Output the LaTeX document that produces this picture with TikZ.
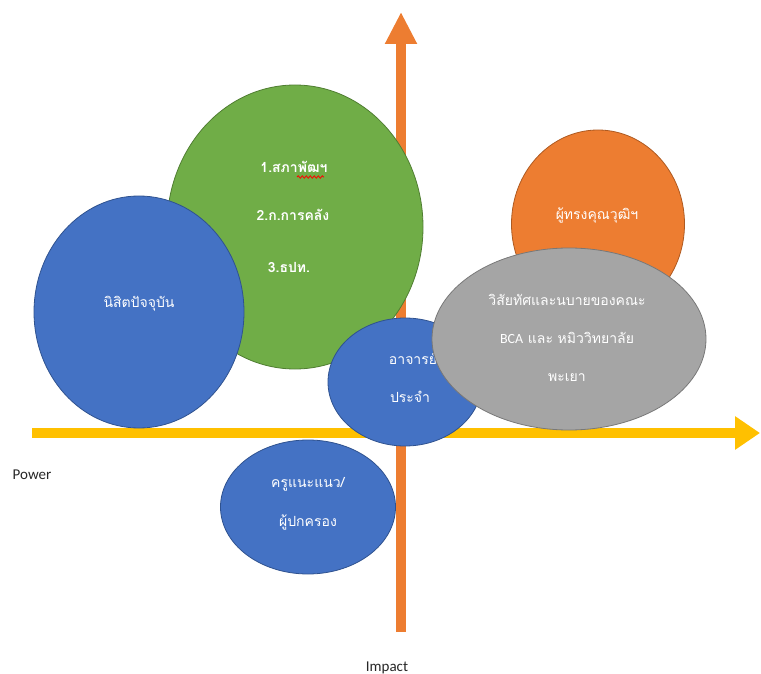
\documentclass[tikz,border=0pt]{standalone}
\usepackage{fontspec}
\setmainfont{Carlito}
\newfontfamily\thai[Script=Thai]{Loma}
\usetikzlibrary{arrows.meta,shapes.geometric,decorations.pathmorphing}
\definecolor{cgreen}{HTML}{70AD47}
\definecolor{cgreenD}{HTML}{507E32}
\definecolor{cblue}{HTML}{4472C4}
\definecolor{cblueD}{HTML}{2F528F}
\definecolor{corange}{HTML}{ED7D31}
\definecolor{corangeD}{HTML}{AE5A21}
\definecolor{cgray}{HTML}{A5A5A5}
\definecolor{cgrayD}{HTML}{787878}
\definecolor{cyellow}{HTML}{FFC000}
\tikzset{
  bubble/.style={ellipse, inner sep=0pt, line width=0.8pt},
  ttext/.style={text=white, font=\thai\fontsize{14}{16}\selectfont, inner sep=0pt, anchor=base},
  ltext/.style={text=black!85, font=\fontsize{15}{17}\selectfont, inner sep=0pt, anchor=base},
}
\begin{document}
\begin{tikzpicture}[x=1pt,y=-1pt]
\useasboundingbox (0,0) rectangle (761,674);
% axes
\coordinate (vbot) at (401,632);
\coordinate (vtop) at (401,12);
\coordinate (hl) at (32,433);
\coordinate (hr) at (760,433);
\draw[corange, line width=10pt, -{Triangle[width=30pt,length=32pt]}] (vbot) -- (vtop);
\draw[cyellow, line width=10pt, -{Triangle[width=32pt,length=25pt]}] (hl) -- (hr);
% green
\node[bubble, fill=cgreen, draw=cgreenD, minimum width=256pt, minimum height=284pt] (green) at (295,227) {};
\node[ttext, font=\thai\bfseries\fontsize{14}{16}\selectfont] (g1) at (294,173) {1.สภาพัฒฯ};
\draw[red, line width=0.8pt, decorate, decoration={snake, amplitude=1.2pt, segment length=4pt}] (297,177) -- (324,177);
\node[ttext, font=\thai\bfseries\fontsize{14}{16}\selectfont] (g2) at (293,221) {2.ก.การคลัง};
\node[ttext, font=\thai\bfseries\fontsize{14}{16}\selectfont] (g3) at (289,272) {3.ธปท.};
% blue students
\node[bubble, fill=cblue, draw=cblueD, minimum width=210pt, minimum height=232pt] (stud) at (139,312) {};
\node[ttext] (studt) at (139,307) {นิสิตปัจจุบัน};
% orange
\node[bubble, fill=corange, draw=corangeD, minimum width=173pt, minimum height=188pt] (expert) at (598,224) {};
\node[ttext] (expertt) at (597,219) {ผู้ทรงคุณวุฒิฯ};
% blue lecturer
\node[bubble, fill=cblue, draw=cblueD, minimum width=154pt, minimum height=128pt] (lect) at (405,382) {};
\node[ttext] (lect1) at (413,364) {อาจารย์};
\node[ttext] (lect2) at (410,402) {ประจำ};
% gray
\node[bubble, fill=cgray, draw=cgrayD, minimum width=274pt, minimum height=182pt] (vision) at (569,339) {};
\node[ttext] (vis1) at (567,305) {วิสัยทัศและนบายของคณะ};
\node[ttext] (vis2) at (567,343) {{\fontspec{Carlito}BCA} และ หมิววิทยาลัย};
\node[ttext] (vis3) at (567,381) {พะเยา};
% blue guidance
\node[bubble, fill=cblue, draw=cblueD, minimum width=175pt, minimum height=134pt] (guide) at (308,507) {};
\node[ttext] (guide1) at (308,487) {ครูแนะแนว/};
\node[ttext] (guide2) at (308,526) {ผู้ปกครอง};
% axis labels
\node[ltext] (power) at (32,479) {Power};
\node[ltext] (impact) at (387,671) {Impact};
\end{tikzpicture}
\end{document}
